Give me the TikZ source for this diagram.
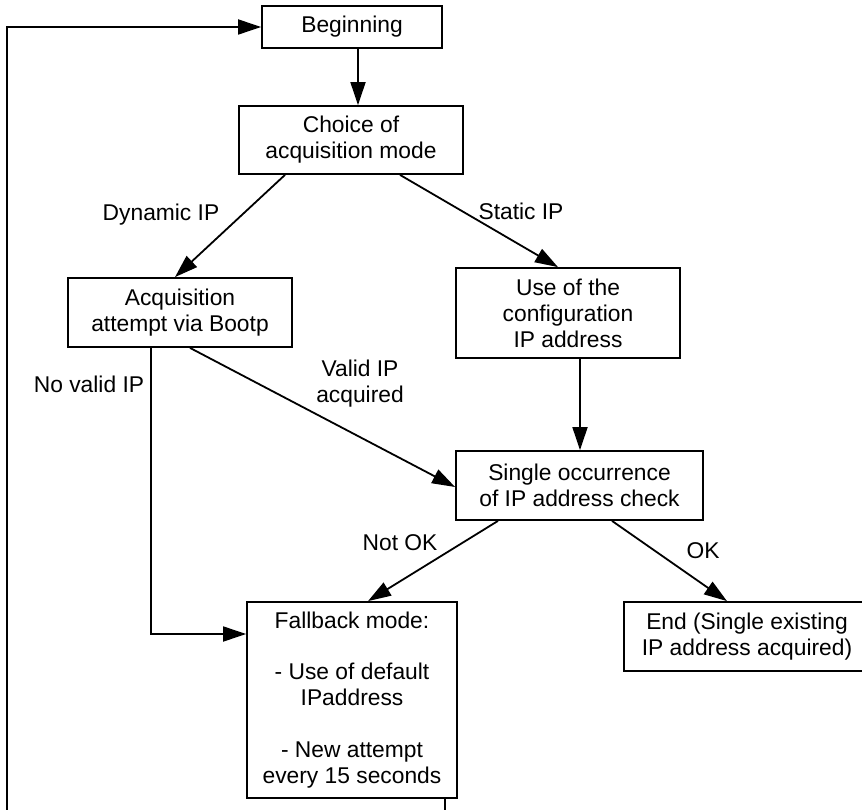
\documentclass[tikz,border=0pt]{standalone}
\usepackage{fontspec}
\setmainfont{Liberation Sans}
\usetikzlibrary{arrows.meta,calc}
\begin{document}
\begin{tikzpicture}[x=1pt,y=-1pt,
  box/.style={draw, line width=1.8pt, rectangle, inner sep=0pt, align=center,
    font=\fontsize{22.8}{26}\selectfont},
  lbl/.style={inner sep=0pt, align=center, font=\fontsize{22.8}{26}\selectfont},
  conn/.style={line width=1.8pt, -{Triangle[length=23pt,width=15pt]}},
  plainline/.style={line width=1.8pt}]
\useasboundingbox (0,0) rectangle (862,810);
\clip (0,0) rectangle (862,810);
% nodes
\node[box, minimum width=180pt, minimum height=42pt] (begin) at (352,27) {Beginning};
\node[box, minimum width=224pt, minimum height=68pt] (choice) at (351,140) {Choice of\\acquisition mode};
\node[box, minimum width=224pt, minimum height=69pt] (acq) at (180,312.5) {Acquisition\\attempt via Bootp};
\node[box, minimum width=224pt, minimum height=90pt] (use) at (568,313) {Use of the\\configuration\\IP address};
\node[box, minimum width=247pt, minimum height=69pt] (single) at (579.5,485.5) {Single occurrence\\of IP address check};
\node[box, minimum width=210pt, minimum height=196pt] (fall) at (352,700)
  {Fallback mode:\\[25.5pt]- Use of default\\IPaddress\\[25.5pt]- New attempt\\every 15 seconds};
\node[box, minimum width=246pt, minimum height=69pt] (endn) at (747,636.5) {End (Single existing\\IP address acquired)};
% labels
\node[lbl, anchor=base] (ldyn) at (161,221) {Dynamic IP};
\node[lbl, anchor=base] (lsta) at (521,220) {Static IP};
\node[lbl, anchor=base] (lnov) at (89,392) {No valid IP};
\node[lbl] (lval) at (360,384) {Valid IP\\acquired};
\node[lbl, anchor=base] (lnok) at (400,550) {Not OK};
\node[lbl, anchor=base] (lok) at (703,558) {OK};
% connectors
\draw[conn] ([xshift=6pt]begin.south) -- ([xshift=7pt]choice.north);
\draw[conn] ([xshift=-66pt]choice.south) -- ([xshift=-5pt]acq.north);
\draw[conn] ([xshift=49pt]choice.south) -- ([xshift=-10pt]use.north);
\draw[conn] ([xshift=12pt]use.south) -- ([xshift=12pt]use.south |- single.north);
\draw[conn] ([xshift=10pt]acq.south) -- ([yshift=-1.5pt]single.west);
\draw[conn] ([xshift=-29pt]acq.south) |- ([yshift=66pt]fall.west);
\draw[conn] ([xshift=-81.5pt]single.south) -- ([xshift=16pt]fall.north);
\draw[conn] ([xshift=32.5pt]single.south) -- ([xshift=-20pt]endn.north);
\coordinate (lb) at (7,820);
\draw[conn] ([xshift=93pt]fall.south) |- (lb) |- (begin.west);
\end{tikzpicture}
\end{document}
